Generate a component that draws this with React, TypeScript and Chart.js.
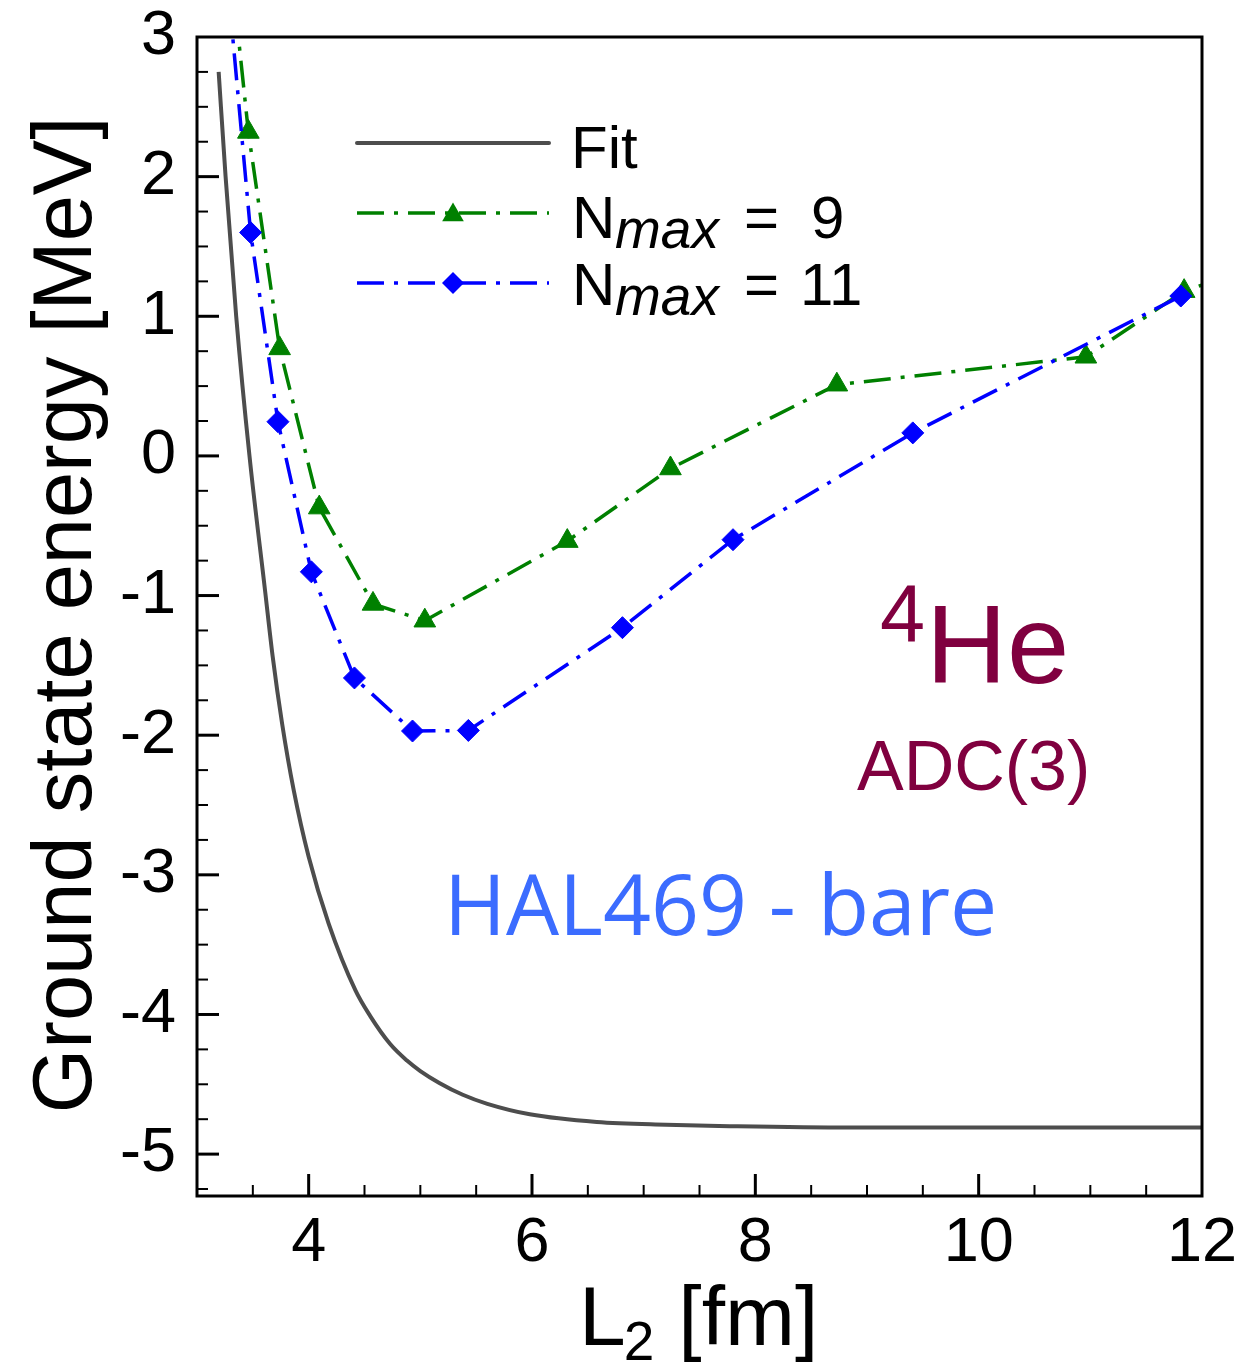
import React, { useEffect, useRef } from 'react';
import { Chart, registerables } from 'chart.js';

Chart.register(...registerables);

// ---------------- data ----------------
const FIT_L = [3.194, 3.256, 3.351, 3.47, 3.609, 3.678, 3.762, 3.866, 4.0, 4.179, 4.418, 4.55, 4.728, 4.88, 5.0, 5.17, 5.38, 5.6, 5.98, 6.58, 7.2, 7.77, 8.85, 10.5, 12.0];
const FIT_E = [2.75, 2.0, 1.0, 0.0, -0.961, -1.439, -1.916, -2.394, -2.871, -3.349, -3.826, -4.01, -4.21, -4.33, -4.405, -4.49, -4.575, -4.64, -4.715, -4.77, -4.79, -4.8, -4.81, -4.81, -4.81];

const N9_L = [3.25, 3.46, 3.74, 4.095, 4.576, 5.04, 6.316, 7.24, 8.73, 10.96, 11.84, 12.8];
const N9_E = [3.92, 2.32, 0.77, -0.37, -1.06, -1.18, -0.61, -0.09, 0.51, 0.71, 1.18, 1.44];

const N11_L = [3.25, 3.48, 3.725, 4.024, 4.41, 4.93, 5.43, 6.81, 7.8, 9.41, 11.81];
const N11_E = [3.61, 1.6, 0.245, -0.83, -1.59, -1.97, -1.966, -1.23, -0.6, 0.165, 1.145];

const X_TICKS = [4, 6, 8, 10, 12];
const Y_TICKS = [-5, -4, -3, -2, -1, 0, 1, 2, 3];
const X_MIN = 3;
const X_MAX = 12;
const Y_MIN = -5.3;
const Y_MAX = 3;
const X_MINOR_STEP = 0.5;
const Y_MINOR_STEP = 0.25;

const LABEL_FIT = 'Fit';
const LABEL_N = 'N';
const LABEL_SUB = 'max';
const LABEL_N9 = '9';
const LABEL_N11 = '11';
const X_TITLE_MAIN = 'L';
const X_TITLE_SUB = '2';
const X_TITLE_REST = ' [fm]';
const Y_TITLE = 'Ground state energy [MeV]';
const NUCLEUS_MASS = '4';
const NUCLEUS = 'He';
const METHOD = 'ADC(3)';
const INTERACTION = 'HAL469 - bare';

// ---------------- styles ----------------
const FONT = "'Liberation Sans', Arial, Helvetica, sans-serif";
const GRAY = '#4d4d4d';
const GREEN = '#008000';
const BLUE = '#0000ff';
const MAROON = '#80003f';
const HALBLUE = '#3b6cff';
const DASH = [27, 10, 4, 10];

function drawTriangle(ctx: CanvasRenderingContext2D, x: number, y: number, r: number) {
  ctx.beginPath();
  for (let k = 0; k < 3; k++) {
    const a = (k * 2 * Math.PI) / 3;
    const px = x + Math.sin(a) * r;
    const py = y - Math.cos(a) * r;
    if (k === 0) ctx.moveTo(px, py);
    else ctx.lineTo(px, py);
  }
  ctx.closePath();
  ctx.fill();
}

function drawDiamond(ctx: CanvasRenderingContext2D, x: number, y: number, r: number) {
  ctx.beginPath();
  ctx.moveTo(x, y - r);
  ctx.lineTo(x + r, y);
  ctx.lineTo(x, y + r);
  ctx.lineTo(x - r, y);
  ctx.closePath();
  ctx.fill();
}

const decorPlugin = {
  id: 'decor',
  afterDatasetsDraw(chart: any) {
    const { ctx, chartArea, scales } = chart;
    const { left, right, top, bottom } = chartArea;
    const xs = scales.x;
    const ys = scales.y;
    ctx.save();
    ctx.strokeStyle = '#000';
    ctx.lineCap = 'butt';
    ctx.setLineDash([]);

    // x ticks (inward)
    const nx = Math.round((X_MAX - X_MIN) / X_MINOR_STEP);
    for (let i = 1; i < nx; i++) {
      const v = X_MIN + i * X_MINOR_STEP;
      const major = X_TICKS.some((t) => Math.abs(t - v) < 1e-6);
      const px = xs.getPixelForValue(v);
      ctx.lineWidth = major ? 3 : 2;
      ctx.beginPath();
      ctx.moveTo(px, bottom);
      ctx.lineTo(px, bottom - (major ? 22 : 11));
      ctx.stroke();
    }
    // y ticks (inward)
    const y0 = Math.ceil(Y_MIN / Y_MINOR_STEP) * Y_MINOR_STEP;
    const ny = Math.round((Y_MAX - y0) / Y_MINOR_STEP);
    for (let i = 0; i < ny; i++) {
      const v = y0 + i * Y_MINOR_STEP;
      const major = Y_TICKS.some((t) => Math.abs(t - v) < 1e-6);
      const py = ys.getPixelForValue(v);
      ctx.lineWidth = major ? 3 : 2;
      ctx.beginPath();
      ctx.moveTo(left, py);
      ctx.lineTo(left + (major ? 22 : 11), py);
      ctx.stroke();
    }
    // frame
    ctx.lineWidth = 3;
    ctx.strokeRect(left, top, right - left, bottom - top);

    // legend
    const lx0 = 357;
    const lx1 = 549;
    const rows = [143, 213, 283];
    ctx.lineWidth = 4;
    ctx.lineCap = 'round';
    ctx.strokeStyle = GRAY;
    ctx.beginPath();
    ctx.moveTo(lx0, rows[0]);
    ctx.lineTo(lx1, rows[0]);
    ctx.stroke();
    ctx.lineCap = 'butt';
    ctx.lineWidth = 3.5;
    ctx.setLineDash(DASH);
    ctx.strokeStyle = GREEN;
    ctx.beginPath();
    ctx.moveTo(lx0, rows[1]);
    ctx.lineTo(lx1, rows[1]);
    ctx.stroke();
    ctx.strokeStyle = BLUE;
    ctx.beginPath();
    ctx.moveTo(lx0, rows[2]);
    ctx.lineTo(lx1, rows[2]);
    ctx.stroke();
    ctx.setLineDash([]);
    ctx.fillStyle = GREEN;
    drawTriangle(ctx, 453, rows[1] + 2, 12.5);
    ctx.fillStyle = BLUE;
    drawDiamond(ctx, 453, rows[2], 11);

    ctx.fillStyle = '#000';
    ctx.textAlign = 'left';
    ctx.textBaseline = 'alphabetic';
    ctx.font = `60px ${FONT}`;
    ctx.fillText(LABEL_FIT, 571, 168);
    const nRows = [
      { base: 238, num: LABEL_N9, numX: 811 },
      { base: 305, num: LABEL_N11, numX: 800 },
    ];
    nRows.forEach((r) => {
      ctx.font = `60px ${FONT}`;
      ctx.fillText(LABEL_N, 572, r.base);
      ctx.font = `italic 55px ${FONT}`;
      ctx.fillText(LABEL_SUB, 615, r.base + 10);
      ctx.font = `60px ${FONT}`;
      ctx.fillText('=', 744, r.base);
      ctx.fillText(r.num, r.numX, r.base);
    });

    // nucleus annotation
    ctx.fillStyle = MAROON;
    ctx.font = `81px ${FONT}`;
    ctx.fillText(NUCLEUS_MASS, 880, 642);
    ctx.font = `112px ${FONT}`;
    ctx.fillText(NUCLEUS, 926, 683);
    ctx.font = `70px ${FONT}`;
    ctx.fillText(METHOD, 857, 790);

    // interaction annotation
    ctx.fillStyle = HALBLUE;
    ctx.font = `84px 'Open Sans', 'Noto Sans', sans-serif`;
    ctx.fillText(INTERACTION, 444, 935);

    // axis titles
    ctx.fillStyle = '#000';
    ctx.font = `84px ${FONT}`;
    ctx.fillText(X_TITLE_MAIN, 579, 1345);
    const lw = ctx.measureText(X_TITLE_MAIN).width;
    ctx.font = `55px ${FONT}`;
    ctx.fillText(X_TITLE_SUB, 579 + lw - 2, 1360);
    ctx.font = `84px ${FONT}`;
    ctx.fillText(X_TITLE_REST, 655, 1345);

    ctx.save();
    ctx.translate(91, 615);
    ctx.rotate(-Math.PI / 2);
    ctx.textAlign = 'center';
    ctx.font = `83px ${FONT}`;
    ctx.fillText(Y_TITLE, 0, 0);
    ctx.restore();

    ctx.restore();
  },
};

export default function App() {
  const ref = useRef<HTMLCanvasElement>(null);
  useEffect(() => {
    const canvas = ref.current;
    if (!canvas) return;
    const chart = new Chart(canvas, {
      type: 'line',
      data: {
        datasets: [
          {
            label: 'Fit',
            data: FIT_L.map((x, i) => ({ x, y: FIT_E[i] })),
            borderColor: GRAY,
            backgroundColor: GRAY,
            borderWidth: 4,
            pointRadius: 0,
            cubicInterpolationMode: 'monotone',
            fill: false,
            order: 2,
            clip: 0,
          },
          {
            label: 'Nmax = 9',
            data: N9_L.map((x, i) => ({ x, y: N9_E[i] })),
            borderColor: GREEN,
            backgroundColor: GREEN,
            borderWidth: 3.5,
            borderDash: DASH,
            tension: 0,
            pointStyle: 'triangle',
            pointRadius: 12.5,
            pointBackgroundColor: GREEN,
            pointBorderColor: GREEN,
            pointBorderWidth: 1,
            fill: false,
            order: 1,
            clip: 0,
          },
          {
            label: 'Nmax = 11',
            data: N11_L.map((x, i) => ({ x, y: N11_E[i] })),
            borderColor: BLUE,
            backgroundColor: BLUE,
            borderWidth: 3.5,
            borderDash: DASH,
            tension: 0,
            pointStyle: 'rectRot',
            pointRadius: 11,
            pointBackgroundColor: BLUE,
            pointBorderColor: BLUE,
            pointBorderWidth: 1,
            fill: false,
            order: 0,
            clip: 0,
          },
        ] as any,
      },
      options: {
        responsive: false,
        animation: false,
        devicePixelRatio: 1,
        layout: { padding: { left: 0, right: 42, top: 37, bottom: 0 } },
        plugins: {
          legend: { display: false },
          tooltip: { enabled: false },
        },
        scales: {
          x: {
            type: 'linear',
            min: X_MIN,
            max: X_MAX,
            afterBuildTicks: (s: any) => {
              s.ticks = X_TICKS.map((v) => ({ value: v }));
            },
            afterFit: (s: any) => {
              s.height = 167;
              s.paddingLeft = 0;
              s.paddingRight = 0;
              s.paddingTop = 0;
              s.paddingBottom = 0;
            },
            grid: { display: false, drawTicks: false },
            border: { display: false },
            ticks: {
              padding: 10,
              color: '#000',
              font: { family: FONT, size: 63 },
              maxRotation: 0,
              autoSkip: false,
              callback: (v: any) => String(v),
            },
          },
          y: {
            type: 'linear',
            min: Y_MIN,
            max: Y_MAX,
            afterBuildTicks: (s: any) => {
              s.ticks = Y_TICKS.map((v) => ({ value: v }));
            },
            afterFit: (s: any) => {
              s.width = 197;
              s.paddingLeft = 0;
              s.paddingRight = 0;
              s.paddingTop = 0;
              s.paddingBottom = 0;
            },
            grid: { display: false, drawTicks: false },
            border: { display: false },
            ticks: {
              padding: 21,
              color: '#000',
              font: { family: FONT, size: 63 },
              autoSkip: false,
              callback: (v: any) => String(v),
            },
          },
        },
      } as any,
      plugins: [decorPlugin],
    });
    return () => chart.destroy();
  }, []);

  return (
    <div style={{ position: 'absolute', left: 0, top: 0, width: 1244, height: 1363, background: '#fff' }}>
      <canvas ref={ref} width={1244} height={1363} style={{ display: 'block' }} />
    </div>
  );
}
